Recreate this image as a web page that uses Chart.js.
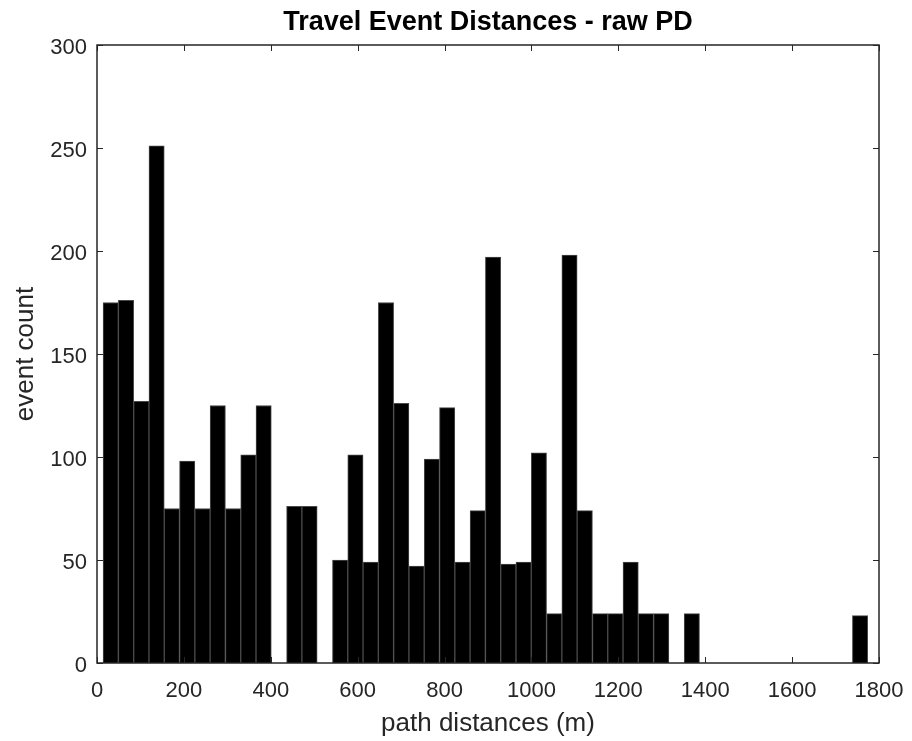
<!DOCTYPE html>
<html>
<head>
<meta charset="utf-8">
<title>Travel Event Distances - raw PD</title>
<script src="https://cdn.jsdelivr.net/npm/chart.js@4/dist/chart.umd.min.js"></script>
<style>
  html, body { margin: 0; padding: 0; background: #fff; }
  #wrap { width: 912px; height: 741px; }
</style>
</head>
<body>
<div id="wrap"><canvas id="histo" width="912" height="741"></canvas></div>
<script>
// histogram bins (metres): first edge and width
const binStart = 14;
const binWidth = 35.2;
// event count per bin, left to right (50 bins)
const counts = [175, 176, 127, 251, 75, 98, 75, 125, 75, 101,
                125, 0, 76, 76, 0, 50, 101, 49, 175, 126,
                47, 99, 124, 49, 74, 197, 48, 49, 102, 24,
                198, 74, 24, 24, 49, 24, 24, 0, 24, 0,
                0, 0, 0, 0, 0, 0, 0, 0, 0, 23];
const xTicks = [0, 200, 400, 600, 800, 1000, 1200, 1400, 1600, 1800];
const yTicks = [0, 50, 100, 150, 200, 250, 300];

const histData = counts.map((c, i) => ({
  x: binStart + binWidth * (i + 0.5),
  y: c > 0 ? c : null
}));

const axisColor = "#262626";
const fontFam = "'Liberation Sans', Arial, sans-serif";

// matlab style box with inward ticks on all four sides
const framePlugin = {
  id: "frame",
  afterDatasetsDraw(chart) {
    const {ctx, chartArea: a, scales} = chart;
    const len = 6;
    ctx.save();
    ctx.strokeStyle = axisColor;
    ctx.lineWidth = 1.5;
    ctx.strokeRect(a.left, a.top, a.right - a.left, a.bottom - a.top);
    ctx.lineWidth = 1;
    ctx.beginPath();
    xTicks.forEach(v => {
      const px = Math.round(scales.x.getPixelForValue(v)) + 0.5;
      ctx.moveTo(px, a.bottom); ctx.lineTo(px, a.bottom - len);
      ctx.moveTo(px, a.top); ctx.lineTo(px, a.top + len);
    });
    yTicks.forEach(v => {
      const py = Math.round(scales.y.getPixelForValue(v)) + 0.5;
      ctx.moveTo(a.left, py); ctx.lineTo(a.left + len, py);
      ctx.moveTo(a.right, py); ctx.lineTo(a.right - len, py);
    });
    ctx.stroke();
    ctx.restore();
  }
};

const ctx = document.getElementById("histo").getContext("2d");
const chart = new Chart(ctx, {
  type: "bar",
  data: {
    datasets: [{
      label: "event count",
      data: histData,
      backgroundColor: "#000000",
      borderColor: "#4a4a4a",
      borderWidth: 1,
      barPercentage: 1.0,
      categoryPercentage: 1.0
    }]
  },
  options: {
    responsive: false,
    animation: false,
    layout: { padding: { left: 0, right: 33, top: 0, bottom: 0 } },
    plugins: {
      legend: { display: false },
      tooltip: { enabled: false },
      title: {
        display: true,
        fullSize: false,
        text: "Travel Event Distances - raw PD",
        color: "#000",
        font: { family: fontFam, size: 27, weight: "bold" },
        padding: { top: 6, bottom: 6.6 }
      }
    },
    scales: {
      x: {
        type: "linear",
        min: 0,
        max: 1800,
        offset: false,
        grid: { display: false, drawTicks: false },
        border: { display: false },
        afterBuildTicks: s => { s.ticks = xTicks.map(v => ({ value: v })); },
        afterFit: s => { s.height = 78; s.paddingLeft = 0; s.paddingRight = 0; },
        ticks: {
          color: axisColor,
          padding: 15,
          maxRotation: 0,
          callback: v => String(v),
          font: { family: fontFam, size: 22 }
        },
        title: {
          display: true,
          text: "path distances (m)",
          color: axisColor,
          font: { family: fontFam, size: 26 },
          padding: { top: 0, bottom: 1.5 }
        }
      },
      y: {
        min: 0,
        max: 300,
        grid: { display: false, drawTicks: false },
        border: { display: false },
        afterBuildTicks: s => { s.ticks = yTicks.map(v => ({ value: v })); },
        afterFit: s => { s.width = 97; s.paddingTop = 0; s.paddingBottom = 0; },
        ticks: {
          color: axisColor,
          padding: 10,
          labelOffset: 3,
          callback: v => String(v),
          font: { family: fontFam, size: 22 }
        },
        title: {
          display: true,
          text: "event count",
          color: axisColor,
          font: { family: fontFam, size: 26 },
          padding: { top: 10, bottom: 0 }
        }
      }
    }
  },
  plugins: [framePlugin]
});
</script>
</body>
</html>
